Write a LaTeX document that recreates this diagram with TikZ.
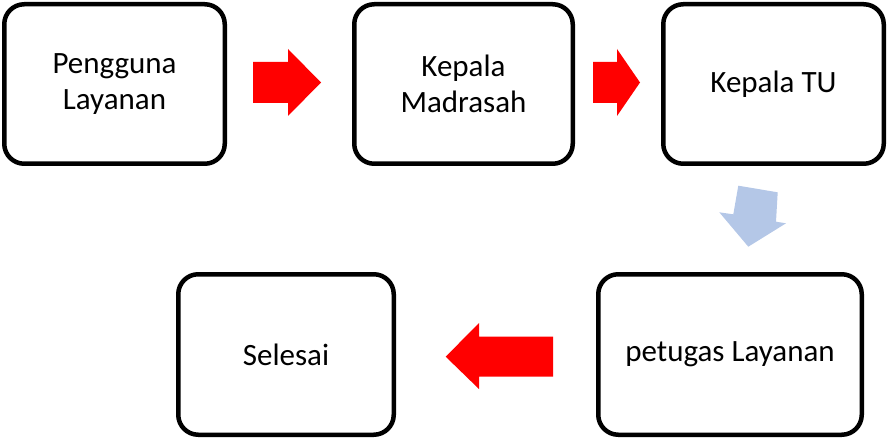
\documentclass[tikz,border=0pt]{standalone}
\usepackage{fontspec}
\setmainfont{Carlito}
\begin{document}
\begin{tikzpicture}[x=1pt,y=-1pt,
  stepbox/.style={draw=black, line width=4.5pt, rounded corners=20pt, fill=white,
    align=center, inner sep=0pt, font=\fontsize{31}{36}\selectfont},
  redarrow/.style={fill=red, draw=none},
  bluearrow/.style={fill={rgb,255:red,180;green,199;blue,231}, draw=none}]
\useasboundingbox (0,0) rectangle (888,438);

% process steps
\node[stepbox, minimum width=220.5pt, minimum height=159.5pt] (pengguna) at (114.5,84) {Pengguna\\Layanan};
\node[stepbox, minimum width=218.5pt, minimum height=159.5pt] (kepala) at (463.5,84) {Kepala\\Madrasah};
\node[stepbox, minimum width=220.5pt, minimum height=159.5pt] (tu) at (773.5,84) {Kepala TU};
\node[stepbox, minimum width=263.5pt, minimum height=160.5pt] (petugas) at (730,354.5) {petugas Layanan};
\node[stepbox, minimum width=215.5pt, minimum height=160.5pt] (selesai) at (286,354.5) {Selesai};

% block arrows between the steps
\fill[redarrow] (253,62) -- (288,62) -- (288,49) -- (321,82.5) -- (288,116) -- (288,103) -- (253,103) -- cycle;
\fill[redarrow] (593,62) -- (617,62) -- (617,49) -- (640,82.5) -- (617,116) -- (617,103) -- (593,103) -- cycle;
\fill[bluearrow] (738.3,185.7) -- (777.7,192.3) -- (776,221.7) -- (786,223.3) -- (748.3,246.7) -- (719.3,212.3) -- (733.3,214.3) -- cycle;
\fill[redarrow] (445.7,356.7) -- (479,323) -- (479,336.7) -- (553,336.7) -- (553,376.7) -- (479,376.7) -- (479,389) -- cycle;
\end{tikzpicture}
\end{document}
